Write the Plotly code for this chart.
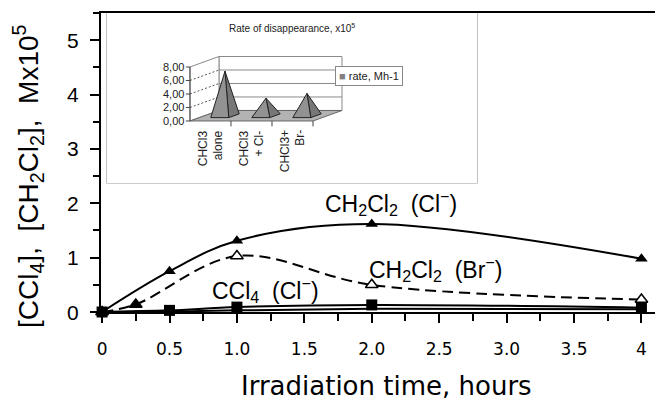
import plotly.graph_objects as go

# ---------------- data ----------------
time_cl = [0, 0.5, 1.0, 2.0, 4.0]
ch2cl2_cl = [0, 0.75, 1.31, 1.62, 0.98]

time_br = [0, 0.25, 1.0, 2.0, 4.0]
ch2cl2_br = [0, 0.14, 1.03, 0.50, 0.23]

time_ccl4 = [0, 0.5, 1.0, 2.0, 4.0]
ccl4_cl = [0, 0.03, 0.09, 0.13, 0.08]
ccl4_br = [0, 0.01, 0.03, 0.06, 0.05]

x_tickvals = [0, 0.5, 1.0, 1.5, 2.0, 2.5, 3.0, 3.5, 4]
x_ticktext = ["0", "0.5", "1.0", "1.5", "2.0", "2.5", "3.0", "3.5", "4"]
y_tickvals = [0, 1, 2, 3, 4, 5]
y_ticktext = ["0", "1", "2", "3", "4", "5"]

inset_categories = ["CHCl3<br>alone", "CHCl3<br>+ Cl-", "CHCl3+<br>Br-"]
inset_rates = [6.6, 2.6, 3.3]
inset_tickvals = [0, 2, 4, 6, 8]
inset_ticktext = ["0,00", "2,00", "4,00", "6,00", "8,00"]

# ---------------- style ----------------
OFF = 8                      # page body margin in the browser
W, H = 663 - OFF, 403 - OFF
ML, MR, MT, MB = 101 - OFF, 0, 13 - OFF, 91
PW, PH = W - ML - MR, H - MT - MB
MAIN_FONT = "Liberation Sans, Arial, sans-serif"
WIDE_FONT = "DejaVu Sans, sans-serif"

def px_x(p):   # screen pixel -> paper x
    return (p - OFF - ML) / PW

def px_y(p):   # screen pixel -> paper y
    return (H - MB - (p - OFF)) / PH

fig = go.Figure()

# ---------------- main series ----------------
fig.add_trace(go.Scatter(
    x=time_ccl4, y=ccl4_br, mode="lines", line=dict(color="black", width=2, shape="spline", smoothing=1.0),
    showlegend=False, cliponaxis=False))
fig.add_trace(go.Scatter(
    x=time_ccl4, y=ccl4_cl, mode="lines+markers",
    line=dict(color="black", width=2, shape="spline", smoothing=1.0),
    marker=dict(symbol="square", size=11, color="black"),
    showlegend=False, cliponaxis=False))
fig.add_trace(go.Scatter(
    x=time_br, y=ch2cl2_br, mode="lines+markers",
    line=dict(color="black", width=2, dash="11px,6px", shape="spline", smoothing=1.0),
    marker=dict(symbol="triangle-up", size=11,
                color=["black", "black", "white", "white", "white"],
                line=dict(color="black", width=1.5)),
    showlegend=False, cliponaxis=False))
fig.add_trace(go.Scatter(
    x=time_cl, y=ch2cl2_cl, mode="lines+markers",
    line=dict(color="black", width=2, shape="spline", smoothing=1.0),
    marker=dict(symbol="triangle-up", size=11, color="black"),
    showlegend=False, cliponaxis=False))

# ---------------- inset (3D pyramid chart) ----------------
DX = 29 / 41.0          # depth offset in category units
DY = 10.5 / 6.75        # depth offset in value units
NC = len(inset_categories)
VMAX = inset_tickvals[-1]
GRID = "#8a8a8a"

def poly(xs, ys, fill, line_color, width=1, dash=None):
    fig.add_trace(go.Scatter(
        x=xs, y=ys, xaxis="x2", yaxis="y2", mode="lines",
        fill="toself" if fill else None, fillcolor=fill,
        line=dict(color=line_color, width=width, dash=dash),
        showlegend=False, hoverinfo="skip"))

# back wall
poly([DX, NC + DX, NC + DX, DX, DX], [DY, DY, VMAX + DY, VMAX + DY, DY], "white", GRID)
# side wall
poly([0, DX, DX, 0, 0], [0, DY, VMAX + DY, VMAX, 0], "white", GRID)
# grid lines
for v in inset_tickvals[1:-1]:
    poly([DX, NC + DX], [v + DY, v + DY], None, GRID, 1)
    poly([0, DX], [v, v + DY], None, "#555555", 1, "2px,2px")
# floor
poly([0, NC, NC + DX, DX, 0], [0, 0, DY, DY, 0], "#b3b3b3", "#666666")
# front value axis
poly([0, 0], [0, VMAX], None, "#444444", 1)
for v in inset_tickvals:
    poly([-0.1, 0], [v, v], None, "#444444", 1)
# category ticks
for k in range(1, NC + 1):
    poly([k, k], [0, -0.8], None, "#444444", 1)

# pyramids
HW = 0.22   # half width (category units)
HD = 0.18   # half depth (fraction of depth)
for i, v in enumerate(inset_rates):
    c = i + 0.5
    fl = (c - HW + (0.5 - HD) * DX, (0.5 - HD) * DY)
    fr = (c + HW + (0.5 - HD) * DX, (0.5 - HD) * DY)
    br = (c + HW + (0.5 + HD) * DX, (0.5 + HD) * DY)
    ap = (c + 0.5 * DX, v + 0.5 * DY)
    poly([fr[0], br[0], ap[0], fr[0]], [fr[1], br[1], ap[1], fr[1]], "#777777", "#222222", 1)
    poly([fl[0], fr[0], ap[0], fl[0]], [fl[1], fr[1], ap[1], fl[1]], "#929292", "#222222", 1)

annotations = []
# inset axis labels
for v, t in zip(inset_tickvals, inset_ticktext):
    annotations.append(dict(x=-0.1, y=v, xref="x2", yref="y2", text=t, showarrow=False,
                            xanchor="right", yanchor="middle",
                            font=dict(family=MAIN_FONT, size=11, color="#222")))
for i, t in enumerate(inset_categories):
    annotations.append(dict(x=i + 0.5, y=-1.0, xref="x2", yref="y2", text=t, showarrow=False,
                            textangle=-90, xanchor="center", yanchor="top", align="right",
                            font=dict(family=MAIN_FONT, size=12, color="#222")))
annotations.append(dict(x=2.49, y=13.8, xref="x2", yref="y2",
                        text="Rate of disappearance, x10<sup>5</sup>", showarrow=False,
                        font=dict(family=MAIN_FONT, size=10, color="#222")))
annotations.append(dict(x=4.37, y=6.6, xref="x2", yref="y2",
                        text="<span style='color:#808080'>■</span> rate, Mh-1", showarrow=False,
                        bordercolor="#888", borderwidth=1, borderpad=3, bgcolor="white",
                        font=dict(family=MAIN_FONT, size=11, color="#222")))

# main y tick labels (placed as text at the tick values)
for v, t in zip(y_tickvals, y_ticktext):
    annotations.append(dict(x=px_x(81), y=v, xref="paper", yref="y", text=t, showarrow=False,
                            xanchor="right", yanchor="middle",
                            font=dict(family=MAIN_FONT, size=21, color="black")))

# main chart labels
lab_font = dict(family=MAIN_FONT, size=23, color="black")
annotations.append(dict(x=2.14, y=2.0, text="CH<sub>2</sub>Cl<sub>2</sub>  (Cl<sup>−</sup>)",
                        showarrow=False, font=lab_font, xanchor="center", yanchor="middle"))
annotations.append(dict(x=2.47, y=0.79, text="CH<sub>2</sub>Cl<sub>2</sub>  (Br<sup>−</sup>)",
                        showarrow=False, font=lab_font, xanchor="center", yanchor="middle"))
annotations.append(dict(x=1.21, y=0.41, text="CCl<sub>4</sub>  (Cl<sup>−</sup>)",
                        showarrow=False, font=lab_font, xanchor="center", yanchor="middle"))
# axis titles
annotations.append(dict(x=px_x(28), y=px_y(176), xref="paper", yref="paper",
                        text="[CCl<sub>4</sub>],  [CH<sub>2</sub>Cl<sub>2</sub>],  Mx10<sup>5</sup>",
                        textangle=-90, showarrow=False, xanchor="center", yanchor="middle",
                        font=dict(family=MAIN_FONT, size=28, color="black")))
annotations.append(dict(x=px_x(386), y=px_y(386), xref="paper", yref="paper",
                        text="Irradiation time, hours", showarrow=False,
                        xanchor="center", yanchor="middle",
                        font=dict(family=WIDE_FONT, size=26, color="black")))

# inset frame (paper coords)
shapes = [dict(type="rect", xref="paper", yref="paper",
               x0=px_x(107), x1=px_x(477), y0=px_y(183), y1=1.0,
               line=dict(color="#999999", width=1.2), fillcolor="white", layer="below")]

fig.update_layout(
    width=W, height=H, autosize=False,
    margin=dict(l=ML, r=MR, t=MT, b=MB),
    paper_bgcolor="white", plot_bgcolor="white",
    showlegend=False,
    annotations=annotations, shapes=shapes,
    xaxis=dict(range=[-0.008, 4.16], tickvals=x_tickvals, ticktext=x_ticktext, automargin=False,
               showline=True, linecolor="black", linewidth=2, mirror=True,
               ticks="outside", ticklen=9, tickwidth=1.5, tickcolor="black",
               minor=dict(tickmode="linear", tick0=0, dtick=0.25, ticks="outside",
                          ticklen=7, tickwidth=1.5, tickcolor="black"),
               showgrid=False, zeroline=False, ticklabelstandoff=12,
               tickfont=dict(family=WIDE_FONT, size=17, color="black")),
    yaxis=dict(range=[0, 5.5], tickvals=y_tickvals, automargin=False, showticklabels=False,
               showline=True, linecolor="black", linewidth=2,
               ticks="outside", ticklen=9, tickwidth=1.5, tickcolor="black",
               minor=dict(tickmode="linear", tick0=0, dtick=0.5, ticks="outside",
                          ticklen=6, tickwidth=1.5, tickcolor="black"),
               showgrid=False, zeroline=False),
    xaxis2=dict(domain=[px_x(107), px_x(477)], automargin=False,
                range=[-2.024, 7.0], anchor="y2", visible=False, fixedrange=True),
    yaxis2=dict(domain=[px_y(183), 1.0], automargin=False,
                range=[-9.19, 16.0], anchor="x2", visible=False, fixedrange=True),
)

fig.write_html("out.html")
